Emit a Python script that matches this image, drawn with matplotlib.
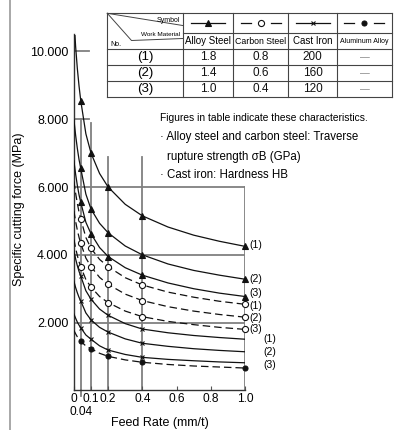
import numpy as np
import matplotlib
matplotlib.use("Agg")
import matplotlib.pyplot as plt

plt.rcParams['font.family'] = ['Liberation Sans', 'DejaVu Sans']

# feed rate (mm/t) where curves were read, and where the symbols sit
feed = np.array([0, 0.01, 0.02, 0.03, 0.04, 0.07, 0.1, 0.15, 0.2, 0.3, 0.4, 0.55, 0.7, 0.85, 1.0])
marker_feed = [0.04, 0.1, 0.2, 0.4, 1.0]

# specific cutting force (MPa), rows = (1), (2), (3)
alloy_steel = [
    [11000, 10150, 9500, 8980, 8550, 7570, 7000, 6400, 6000, 5490, 5150, 4820, 4580, 4400, 4250],
    [7990, 7530, 7140, 6810, 6550, 5790, 5350, 4930, 4650, 4260, 4000, 3730, 3540, 3400, 3280],
    [6770, 6380, 6050, 5770, 5550, 4960, 4620, 4215, 3950, 3620, 3400, 3170, 3000, 2870, 2770],
]
carbon_steel = [
    [6170, 5820, 5520, 5260, 5060, 4510, 4190, 3865, 3650, 3325, 3110, 2900, 2750, 2630, 2540],
    [5295, 4990, 4730, 4515, 4340, 3905, 3650, 3335, 3130, 2840, 2650, 2470, 2340, 2240, 2160],
    [4455, 4200, 3980, 3795, 3650, 3270, 3050, 2770, 2590, 2340, 2175, 2035, 1940, 1860, 1800],
]
cast_iron = [
    [4120, 3880, 3680, 3510, 3375, 2940, 2690, 2400, 2215, 1970, 1810, 1700, 1620, 1560, 1510],
    [3220, 3035, 2880, 2745, 2640, 2285, 2080, 1860, 1720, 1520, 1390, 1300, 1230, 1180, 1140],
    [2255, 2130, 2015, 1925, 1850, 1635, 1510, 1315, 1190, 1060, 975, 915, 875, 840, 815],
]
aluminum_alloy = [1770, 1670, 1580, 1510, 1450, 1310, 1230, 1095, 1005, 900, 830, 765, 720, 690, 660]

# right-hand labels (y positions)
alloy_label_y = [4290, 3280, 2880]
carbon_label_y = [2490, 2130, 1800]
cast_label_y = [1510, 1125, 755]
row_names = ['(1)', '(2)', '(3)']

# table
materials = ['Alloy Steel', 'Carbon Steel', 'Cast Iron', 'Aluminum Alloy']
table_rows = [['1.8', '0.8', '200', '—'],
              ['1.4', '0.6', '160', '—'],
              ['1.0', '0.4', '120', '—']]

yticks = [2000, 4000, 6000, 8000, 10000]
ytick_labels = ['2.000', '4.000', '6.000', '8.000', '10.000']
xticks = [0, 0.1, 0.2, 0.4, 0.6, 0.8, 1.0]
xtick_labels = ['0', '0.1', '0.2', '0.4', '0.6', '0.8', '1.0']

W, H = 406, 430
fig = plt.figure(figsize=(W / 100, H / 100), dpi=100)
ax = fig.add_axes([73.9 / W, 1 - 390.4 / H, 171.1 / W, 355.9 / H])
ax.set_xlim(0, 1.0)
ax.set_ylim(0, 10500)

grid_c = '#808080'
ink = '#111111'

# grid lines
for v in [2000, 4000, 6000]:
    ax.plot([0, 1.0], [v, v], color=grid_c, lw=1.3, zorder=1)
for v in [8000, 10000]:
    ax.plot([0, 0.09], [v, v], color=grid_c, lw=1.3, zorder=1)
vline_tops = [8000, 7900, 6900, 6900, 6000]
for xv, top in zip(marker_feed, vline_tops):
    ax.plot([xv, xv], [0, top], color=grid_c, lw=1.3, zorder=1)
ax.plot([0.04, 0.04], [-160, 0], color=grid_c, lw=1.3, clip_on=False)

sel = np.isin(feed, marker_feed)
sel_cast = np.isin(feed, marker_feed[:-1])

def draw(vals, dashed, marker, msel, ms, mfc):
    vals = np.array(vals)
    ln, = ax.plot(feed, vals, color=ink, lw=0.9, zorder=3)
    if dashed:
        ln.set_dashes((6, 3.2))
    ax.plot(feed[msel], vals[msel], ls='none', marker=marker, ms=ms, mfc=mfc,
            mec=ink, mew=0.8, clip_on=False, zorder=4)

for c in alloy_steel:
    draw(c, False, '^', sel, 4.6, ink)
for c in carbon_steel:
    draw(c, True, 'o', sel, 4.4, 'white')
for c in cast_iron:
    draw(c, False, 'x', sel_cast, 3.2, ink)
draw(aluminum_alloy, True, 'o', sel, 3.6, ink)

for lab, yv in zip(row_names, alloy_label_y):
    ax.text(1.025, yv, lab, fontsize=7.5, va='center', ha='left', clip_on=False)
for lab, yv in zip(row_names, carbon_label_y):
    ax.text(1.025, yv, lab, fontsize=7.5, va='center', ha='left', clip_on=False)
for lab, yv in zip(row_names, cast_label_y):
    ax.text(1.11, yv, lab, fontsize=7.5, va='center', ha='left', clip_on=False)

# axes styling
for s in ['top', 'right']:
    ax.spines[s].set_visible(False)
for s in ['left', 'bottom']:
    ax.spines[s].set_color('#333333')
    ax.spines[s].set_linewidth(1.0)
ax.set_yticks(yticks)
ax.set_yticklabels(ytick_labels, fontsize=9)
ax.tick_params(axis='y', length=0, pad=4)
ax.set_xticks(xticks)
ax.set_xticklabels(xtick_labels, fontsize=8.6)
ax.tick_params(axis='x', direction='in', length=3, width=0.8, color='#555555', pad=2)
ax.text(0.04, -0.06, '0.04', transform=ax.get_xaxis_transform(), fontsize=8.6,
        ha='center', va='center')

fig.text(159.5 / W, 1 - 423 / H, 'Feed Rate (mm/t)', fontsize=9, ha='center', va='center')
fig.text(19 / W, 1 - 209 / H, 'Specific cutting force (MPa)', fontsize=9,
         rotation=90, ha='center', va='center')

# overlay in pixel units for the table and notes
ov = fig.add_axes([0, 0, 1, 1], facecolor='none')
ov.set_xlim(0, W)
ov.set_ylim(H, 0)
ov.axis('off')

ov.plot([10, 10], [0, H], color='#9a9a9a', lw=1.2)

col_x = [107.3, 182.7, 233.3, 288.3, 337.3, 391.7]
row_y = [13.3, 33.3, 49.3, 65.3, 81.3, 97.3]
tc = '#444444'
for i, yv in enumerate(row_y):
    x0 = col_x[1] if i == 1 else col_x[0]
    ov.plot([x0, col_x[-1]], [yv, yv], color=tc, lw=0.8)
for xv in col_x:
    ov.plot([xv, xv], [row_y[0], row_y[-1]], color=tc, lw=0.8)
ov.plot([col_x[0], col_x[1]], [row_y[0], 25.5], color=tc, lw=0.7)
ov.plot([col_x[0], 131.5, col_x[1]], [row_y[0], 40.5, 38.5], color=tc, lw=0.7)
ov.text(180, 20, 'Symbol', fontsize=5, ha='right', va='center')
ov.text(180, 34.5, 'Work Material', fontsize=4.6, ha='right', va='center')
ov.text(110, 44.5, 'No.', fontsize=5, ha='left', va='center')

# symbol samples
sy = (row_y[0] + row_y[1]) / 2
centers = [(col_x[i] + col_x[i + 1]) / 2 for i in range(1, 5)]
samples = [(False, '^', ink, 4.6), (True, 'o', 'white', 4.4),
           (False, 'x', ink, 3.2), (True, 'o', ink, 3.6)]
for cx, (dashed, mk, mfc, ms) in zip(centers, samples):
    if dashed:
        ov.plot([cx - 20, cx - 10], [sy, sy], color=ink, lw=0.9)
        ov.plot([cx + 10, cx + 20], [sy, sy], color=ink, lw=0.9)
    else:
        ov.plot([cx - 17, cx + 17], [sy, sy], color=ink, lw=0.9)
    ov.plot([cx], [sy], marker=mk, ms=ms, mfc=mfc, mec=ink, mew=0.8)

ny = (row_y[1] + row_y[2]) / 2
name_sizes = [7.0, 6.3, 7.0, 5.0]
for cx, name, fs in zip(centers, materials, name_sizes):
    ov.text(cx, ny, name, fontsize=fs, ha='center', va='center')

first_cx = (col_x[0] + col_x[1]) / 2
for r, (lab, vals) in enumerate(zip(row_names, table_rows)):
    ry = (row_y[r + 2] + row_y[r + 3]) / 2
    ov.text(first_cx, ry, lab, fontsize=9.5, ha='center', va='center')
    for cx, v in zip(centers, vals):
        col = '#888888' if v == '—' else ink
        ov.text(cx, ry, v, fontsize=8.5 if v != '—' else 7, ha='center', va='center', color=col)

ov.text(160, 118.3, 'Figures in table indicate these characteristics.', fontsize=7.4,
        ha='left', va='center')
ov.text(160, 137.3, '· Alloy steel and carbon steel: Traverse', fontsize=8.3,
        ha='left', va='center')
ov.text(167.5, 156.7, 'rupture strength σB (GPa)', fontsize=8.3, ha='left', va='center')
ov.text(160, 175, '· Cast iron: Hardness HB', fontsize=8.3, ha='left', va='center')

fig.savefig('out.png', dpi=100)
